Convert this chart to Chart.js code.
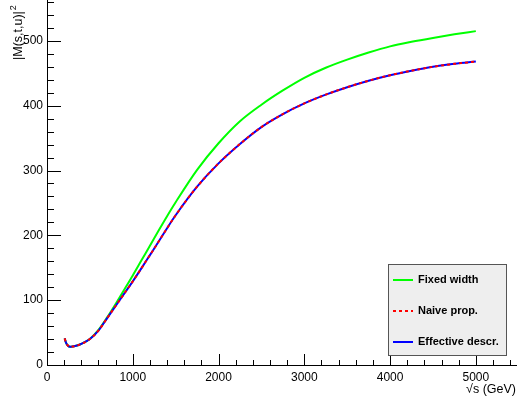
<!DOCTYPE html>
<html>
<head>
<meta charset="utf-8">
<script src="https://cdn.jsdelivr.net/npm/chart.js@4/dist/chart.umd.min.js"></script>
<style>
html,body{margin:0;padding:0;background:#fff;}
#wrap{width:517px;height:407px;position:relative;}
</style>
</head>
<body>
<div id="wrap"><canvas id="c" width="517" height="407"></canvas></div>
<script>
// ---- data ----
const sqrtS = [206, 220, 240, 270, 300, 350, 400, 500, 600, 700, 800, 900, 1000, 1100, 1200, 1300, 1400, 1500, 1750, 2000, 2250, 2500, 2750, 3000, 3250, 3500, 3750, 4000, 4250, 4500, 4750, 5000];
const fixedWidth = [41, 35, 30.5, 28, 28.5, 30, 32.5, 40, 54, 73, 94, 116, 138, 161, 184, 207, 229.5, 251, 301, 342, 376, 401.5, 423.5, 443, 458.5, 471, 482, 491.5, 498.5, 504.5, 510, 515];
const naiveProp = [41, 35, 30.5, 28, 28.5, 30, 32.5, 40, 53, 72, 91, 110, 129, 149, 169.5, 190, 211, 231, 275, 311, 341, 367, 387, 403.5, 417, 428.5, 438.5, 447, 454, 460, 464.5, 468];
const effectiveDescr = [41, 35, 30.5, 28, 28.5, 30, 32.5, 40, 53, 72, 91, 110, 129, 149, 169.5, 190, 211, 231, 275, 311, 341, 367, 387, 403.5, 417, 428.5, 438.5, 447, 454, 460, 464.5, 468];
const seriesNames = ["Fixed width", "Naive prop.", "Effective descr."];
const xTickValues = [0, 1000, 2000, 3000, 4000, 5000];
const yTickValues = [0, 100, 200, 300, 400, 500];
const yTitle = "|M(s,t,u)|";
const xTitle = "\u221As (GeV)";

const toPts = (ys) => sqrtS.map((x, i) => ({x: x, y: ys[i]}));
const FONT = "'Liberation Sans', Arial, Helvetica, sans-serif";

const rootDecor = {
  id: 'rootDecor',
  afterDraw(chart) {
    const ctx = chart.ctx;
    const xs = chart.scales.x, ys = chart.scales.y;
    const ca = chart.chartArea;
    ctx.save();
    ctx.strokeStyle = '#000';
    ctx.lineWidth = 1;
    // x ticks (inside, upward)
    for (let v = 0; v <= xs.max; v += 200) {
      const px = Math.round(xs.getPixelForValue(v)) + 0.5;
      const len = (v % 1000 === 0) ? 11 : 5;
      ctx.beginPath(); ctx.moveTo(px, ca.bottom); ctx.lineTo(px, ca.bottom - len); ctx.stroke();
    }
    // y ticks (inside, rightward)
    for (let v = 0; v <= ys.max; v += 20) {
      const py = Math.round(ys.getPixelForValue(v)) + 0.5;
      const len = (v % 100 === 0) ? 14 : 7;
      ctx.beginPath(); ctx.moveTo(ca.left, py); ctx.lineTo(ca.left + len, py); ctx.stroke();
    }
    // axis titles
    ctx.fillStyle = '#000';
    ctx.font = '12.5px ' + FONT;
    ctx.textAlign = 'right';
    ctx.textBaseline = 'alphabetic';
    ctx.fillText(xTitle, 516, 393);
    ctx.save();
    ctx.translate(22, 60);
    ctx.rotate(-Math.PI / 2);
    ctx.textAlign = 'left';
    ctx.fillText(yTitle, 0, 0);
    const w = ctx.measureText(yTitle).width;
    ctx.font = '9px ' + FONT;
    ctx.fillText('2', w + 1, -6);
    ctx.restore();

    // legend box
    const bx = 388.5, by = 264.5, bw = 118, bh = 91;
    ctx.fillStyle = '#eeeeee';
    ctx.fillRect(bx, by, bw, bh);
    ctx.strokeStyle = '#555';
    ctx.strokeRect(bx, by, bw, bh);
    const rows = [280, 311, 342];
    chart.data.datasets.forEach((ds, i) => {
      const y = rows[i];
      ctx.save();
      ctx.strokeStyle = ds.borderColor;
      ctx.lineWidth = 2;
      ctx.setLineDash(ds.borderDash || []);
      ctx.beginPath(); ctx.moveTo(393, y); ctx.lineTo(413, y); ctx.stroke();
      ctx.restore();
      ctx.fillStyle = '#000';
      ctx.font = 'bold 11px ' + FONT;
      ctx.textAlign = 'left';
      ctx.textBaseline = 'middle';
      ctx.fillText(ds.label, 418, y);
    });
    ctx.restore();
  }
};

new Chart(document.getElementById('c'), {
  type: 'line',
  data: {
    datasets: [
      {label: seriesNames[0], data: toPts(fixedWidth), borderColor: '#00ff00', borderWidth: 2, pointRadius: 0, cubicInterpolationMode: 'monotone', fill: false, order: 2},
      {label: seriesNames[1], data: toPts(naiveProp), borderColor: '#ff0000', borderWidth: 2, borderDash: [3, 3], pointRadius: 0, cubicInterpolationMode: 'monotone', fill: false, order: 0},
      {label: seriesNames[2], data: toPts(effectiveDescr), borderColor: '#0000ff', borderWidth: 2, pointRadius: 0, cubicInterpolationMode: 'monotone', fill: false, order: 1}
    ]
  },
  options: {
    responsive: false,
    animation: false,
    devicePixelRatio: 1,
    layout: {padding: 0},
    plugins: {legend: {display: false}, tooltip: {enabled: false}},
    scales: {
      x: {
        type: 'linear', min: 0, max: 5480,
        afterFit(s) { s.height = 42; s.paddingLeft = 0; s.paddingRight = 0; },
        afterBuildTicks(s) { s.ticks = xTickValues.map(v => ({value: v})); },
        grid: {display: false, drawTicks: false},
        border: {display: true, color: '#000', width: 1},
        ticks: {color: '#000', font: {family: FONT, size: 12}, padding: 5, maxRotation: 0, autoSkip: false, callback: v => String(v)}
      },
      y: {
        type: 'linear', min: 0, max: 563,
        afterFit(s) { s.width = 47; s.paddingTop = 0; s.paddingBottom = 0; },
        afterBuildTicks(s) { s.ticks = yTickValues.map(v => ({value: v})); },
        grid: {display: false, drawTicks: false},
        border: {display: true, color: '#000', width: 1},
        ticks: {color: '#000', font: {family: FONT, size: 12}, padding: 4, callback: v => String(v)}
      }
    }
  },
  plugins: [rootDecor]
});
</script>
</body>
</html>
